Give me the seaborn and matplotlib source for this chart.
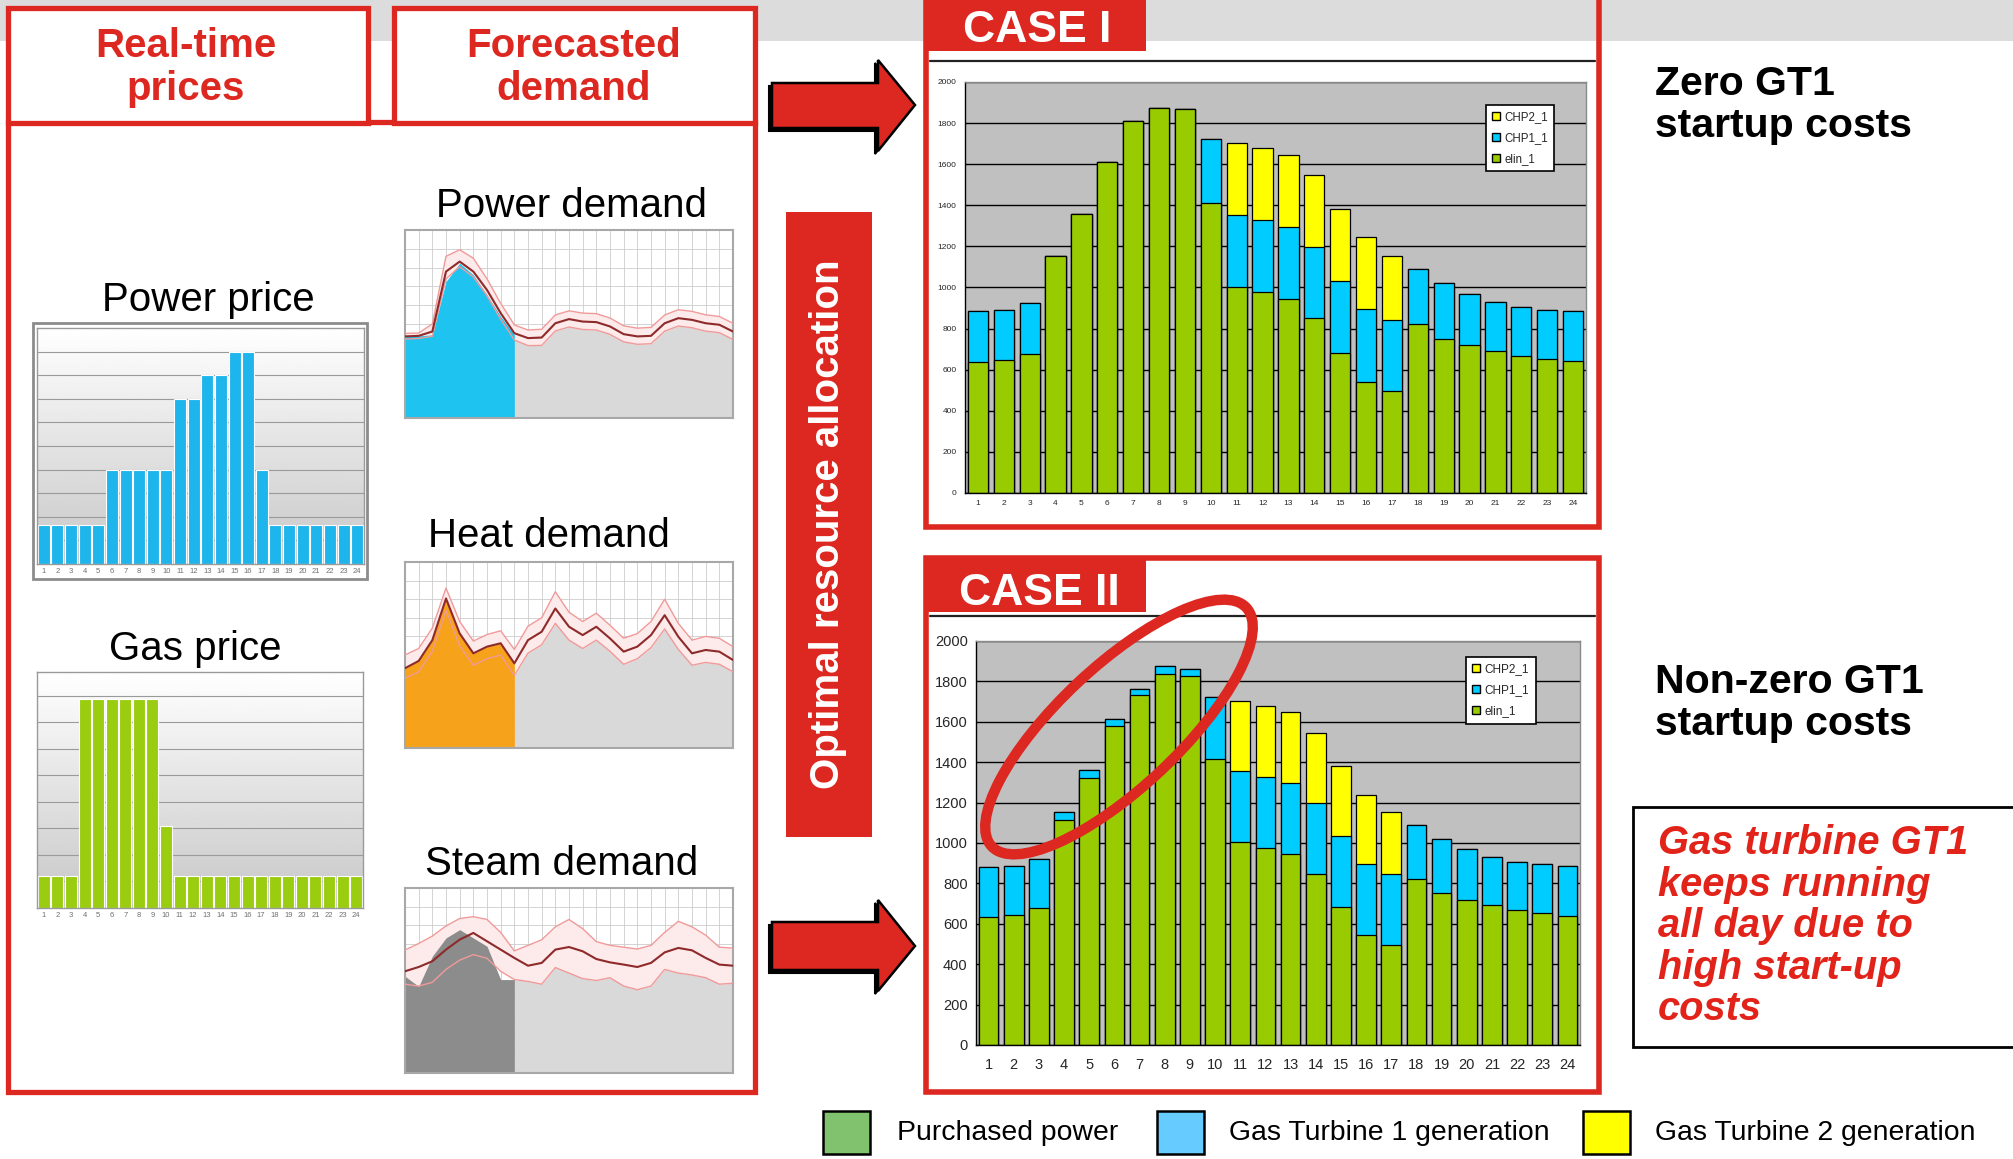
import matplotlib
matplotlib.use("Agg")
import matplotlib.pyplot as plt
from matplotlib.patches import Rectangle, Polygon, Ellipse, Patch
import numpy as np
import seaborn as sns

# ---- data ----
hours = list(range(1, 25))

# case I: purchased power (elin_1), GT1 (CHP1_1), GT2 (CHP2_1)
elin_1 = [636, 647, 677, 1155, 1359, 1612, 1809, 1872, 1867, 1413, 1004, 976,
          942, 850, 682, 542, 496, 820, 751, 721, 693, 666, 652, 643]
chp1_1 = [248, 244, 248, 0, 0, 0, 0, 0, 0, 309, 350, 353,
          351, 346, 352, 355, 347, 270, 271, 249, 235, 241, 239, 241]
chp2_1 = [0, 0, 0, 0, 0, 0, 0, 0, 0, 0, 350, 349,
          352, 352, 346, 347, 312, 0, 0, 0, 0, 0, 0, 0]

# case II
elin_2 = [632, 644, 680, 1116, 1323, 1581, 1733, 1839, 1829, 1414, 1003, 976,
          945, 846, 684, 545, 496, 822, 751, 720, 692, 667, 652, 640]
chp1_2 = [248, 241, 243, 38, 38, 34, 31, 36, 34, 307, 351, 352,
          350, 351, 350, 350, 350, 265, 271, 248, 240, 238, 243, 245]
chp2_2 = [0, 0, 0, 0, 0, 0, 0, 0, 0, 0, 350, 350,
          352, 350, 348, 345, 306, 0, 0, 0, 0, 0, 0, 0]

power_price = [1.65, 1.65, 1.65, 1.65, 1.65, 4, 4, 4, 4, 4, 7, 7,
               8, 8, 9, 9, 4, 1.65, 1.65, 1.65, 1.65, 1.65, 1.65, 1.65]
gas_price = [1.2, 1.2, 1.2, 7.9, 7.9, 7.9, 7.9, 7.9, 7.9, 3.1, 1.2, 1.2,
             1.2, 1.2, 1.2, 1.2, 1.2, 1.2, 1.2, 1.2, 1.2, 1.2, 1.2, 1.2]

# forecast profiles (0..24 h, % of axis) and measured part (0..8 h)
fc_hours = list(range(25))
act_hours = list(range(9))

power_act = [43.4, 43.7, 44.2, 72.6, 82.3, 76.1, 65.5, 54.0, 44.2]
power_fc = [43.4, 43.7, 46.0, 77.9, 83.2, 77.9, 68.1, 55.8, 45.1, 42.5, 42.8, 50.4, 52.6,
            51.3, 51.0, 48.7, 44.6, 43.4, 43.7, 50.4, 53.1, 52.2, 50.4, 49.6, 46.0]
power_hi = [45.0, 45.2, 50.0, 86.0, 89.5, 85.0, 74.0, 61.0, 49.5, 46.8, 47.2, 54.8, 57.0,
            55.8, 55.5, 53.2, 49.0, 47.8, 48.2, 54.8, 57.6, 56.7, 54.9, 54.0, 50.4]
power_lo = [42.0, 42.3, 43.5, 74.0, 80.5, 75.0, 65.0, 52.5, 41.5, 38.5, 38.6, 46.3, 48.4,
            47.1, 46.8, 44.5, 40.5, 39.2, 39.5, 46.2, 48.9, 48.0, 46.2, 45.4, 41.8]

heat_act = [42.9, 46.8, 58.0, 80.4, 61.6, 50.9, 54.5, 56.3, 45.5]
heat_fc = [42.9, 46.8, 58.0, 80.4, 61.6, 50.9, 54.5, 56.3, 45.5, 58.0, 62.5, 75.0, 65.2,
           60.7, 65.2, 58.9, 51.8, 54.5, 60.7, 71.4, 59.8, 50.9, 52.7, 51.8, 47.3]
heat_hi = [50.0, 53.5, 64.5, 86.0, 68.0, 57.5, 61.0, 63.0, 53.0, 65.5, 70.0, 84.0, 73.0,
           68.0, 72.5, 66.0, 59.0, 61.5, 68.0, 80.0, 67.0, 58.0, 60.0, 59.0, 54.5]
heat_lo = [37.5, 41.0, 52.0, 74.0, 55.0, 44.5, 48.0, 50.0, 39.0, 51.0, 55.5, 67.0, 58.0,
           53.5, 58.0, 52.0, 45.0, 48.0, 54.0, 64.0, 53.0, 44.5, 46.0, 45.0, 41.0]

steam_act = [52.3, 46.8, 63.1, 73.0, 77.5, 73.0, 68.5, 50.5, 50.5]
steam_fc = [55.0, 57.3, 60.4, 66.7, 72.1, 75.7, 71.2, 66.7, 62.2, 58.0, 59.5, 66.7, 68.1,
            65.8, 61.6, 59.8, 58.6, 57.3, 59.5, 65.2, 67.6, 66.3, 62.2, 58.6, 58.0]
steam_hi = [66.5, 70.0, 74.0, 79.5, 83.5, 84.5, 83.0, 76.0, 66.0, 69.0, 72.0, 79.0, 83.0,
            78.0, 71.0, 69.0, 68.0, 67.0, 69.0, 76.0, 82.0, 79.0, 74.5, 68.0, 67.5]
steam_lo = [48.0, 47.0, 49.0, 56.0, 61.0, 64.0, 62.0, 55.0, 50.5, 49.5, 48.0, 57.0, 54.0,
            51.0, 50.0, 51.5, 47.0, 45.0, 47.0, 56.0, 54.0, 53.0, 51.5, 48.0, 48.5]

# ---- style ----
sns.set_style("white")
plt.rcParams["font.family"] = ["Liberation Sans", "DejaVu Sans"]

RED = "#dc2820"
GREEN = "#99cc00"
BLUE = "#00ccff"
YELLOW = "#ffff00"

W, H = 2013, 1159
fig = plt.figure(figsize=(W / 100, H / 100), dpi=100)


def box(x, y, w, h):
    return [x / W, 1 - (y + h) / H, w / W, h / H]


bg = fig.add_axes([0, 0, 1, 1], zorder=0)
bg.set_xlim(0, W)
bg.set_ylim(H, 0)
bg.axis("off")

# top grey band
bg.add_patch(Rectangle((0, 0), W, 41, color="#dcdcdc", lw=0))

# left frame with header boxes
bg.add_patch(Rectangle((8, 122), 747, 970, fc="white", ec=RED, lw=3.8))
bg.add_patch(Rectangle((8, 8), 360, 115, fc="white", ec=RED, lw=3.8))
bg.add_patch(Rectangle((394, 8), 361, 115, fc="white", ec=RED, lw=3.8))
for txt, xc, yb in [("Real-time", 186, 57), ("prices", 186, 100),
                    ("Forecasted", 574, 57), ("demand", 574, 100)]:
    bg.text(xc, yb, txt, ha="center", va="baseline", color=RED,
            fontsize=29, fontweight="bold")

for txt, xc, yb in [("Power price", 208, 311), ("Gas price", 195, 660),
                    ("Power demand", 571, 217), ("Heat demand", 549, 547),
                    ("Steam demand", 562, 875)]:
    bg.text(xc, yb, txt, ha="center", va="baseline", color="black", fontsize=29)

# arrows
for pts in [[(772, 83), (878, 83), (878, 60), (915, 105), (878, 151), (878, 128), (772, 128)],
            [(772, 922), (878, 922), (878, 900), (915, 946), (878, 991), (878, 970), (772, 970)]]:
    shadow = [(px - 3, py + 3) for px, py in pts]
    bg.add_patch(Polygon(shadow, closed=True, fc="black", ec="black", lw=1.5))
    bg.add_patch(Polygon(pts, closed=True, fc=RED, ec="black", lw=1.8))

# vertical label box
bg.add_patch(Rectangle((786, 212), 86, 625, color=RED, lw=0))
bg.text(828, 524, "Optimal resource allocation", rotation=90, ha="center", va="center",
        color="white", fontsize=29, fontweight="bold")

# CASE I frame (top edge runs off the canvas)
bg.add_patch(Rectangle((926, -20), 673, 547, fc="none", ec=RED, lw=4))
bg.add_patch(Rectangle((924, 0), 222, 51, color=RED, lw=0))
bg.plot([930, 1595], [61, 61], color="#222222", lw=1.6)
bg.text(963, 42, "CASE I", color="white", fontsize=32, fontweight="bold", va="baseline")

# CASE II frame
bg.add_patch(Rectangle((926, 558), 673, 534, fc="white", ec=RED, lw=4))
bg.add_patch(Rectangle((924, 556), 222, 56, color=RED, lw=0))
bg.plot([930, 1595], [616, 616], color="#222222", lw=1.6)
bg.text(959, 605, "CASE II", color="white", fontsize=32, fontweight="bold", va="baseline")

# right-hand notes
for txt, yb in [("Zero GT1", 95), ("startup costs", 137),
                ("Non-zero GT1", 693), ("startup costs", 735)]:
    bg.text(1655, yb, txt, fontsize=29.5, fontweight="bold", va="baseline", color="black")

bg.add_patch(Rectangle((1633, 807), 390, 240, fc="white", ec="black", lw=2))
for txt, yb in [("Gas turbine GT1", 854), ("keeps running", 896), ("all day due to", 937),
                ("high start-up", 979), ("costs", 1020)]:
    bg.text(1658, yb, txt, fontsize=28.7, fontweight="bold", fontstyle="italic",
            color="#e2231a", va="baseline")

# bottom legend
for x0, col, xt, lab in [(823, "#80c26e", 897, "Purchased power"),
                         (1157, "#66ccff", 1229, "Gas Turbine 1 generation"),
                         (1583, YELLOW, 1655, "Gas Turbine 2 generation")]:
    bg.add_patch(Rectangle((x0, 1111), 47, 43, fc=col, ec="black", lw=1.8))
    bg.text(xt, 1133, lab, fontsize=20.4, va="center", color="black")


# ---- small price charts ----
def gradient(ax):
    grad = np.linspace(1.0, 0.78, 100).reshape(-1, 1)
    ax.imshow(grad, cmap="gray", vmin=0, vmax=1, extent=[0, 1, 0, 1],
              transform=ax.transAxes, aspect="auto", zorder=0)


def price_chart(rect, values, color, top):
    ax = fig.add_axes(box(*rect))
    gradient(ax)
    sns.barplot(x=hours, y=values, color=color, saturation=1, width=0.88,
                edgecolor="white", linewidth=0.8, errorbar=None, ax=ax)
    ax.set_xlim(-0.5, 23.5)
    ax.set_ylim(0, top)
    ax.set_yticks(np.arange(0, top, 1))
    ax.yaxis.grid(True, color="#9a9a9a", lw=0.8)
    ax.set_axisbelow(True)
    ax.set_yticklabels([])
    ax.tick_params(axis="x", labelsize=5.5, labelcolor="#707070", length=0, pad=3)
    ax.tick_params(axis="y", length=0)
    ax.set_xlabel("")
    ax.set_ylabel("")
    for s in ax.spines.values():
        s.set_color("#9a9a9a")
        s.set_linewidth(1)
    return ax


bg.add_patch(Rectangle((33, 323), 334, 256, fc="white", ec="#8c8c8c", lw=2))
price_chart((37, 328, 327, 236), power_price, "#1eb4ec", 10)
price_chart((37, 672, 326, 236), gas_price, "#9acc10", 8.9)


# ---- demand forecast charts ----
def demand_chart(rect, act, fc, hi, lo, color):
    ax = fig.add_axes(box(*rect))
    ax.fill_between(fc_hours[8:], 0, lo[8:], color="#d9d9d9", lw=0, zorder=1)
    ax.fill_between(fc_hours, lo, hi, color="#fdeaea", lw=0, zorder=1)
    ax.fill_between(act_hours, 0, act, color=color, lw=0, zorder=1.5)
    sns.lineplot(x=fc_hours, y=hi, color="#f09a9a", lw=1.0, ax=ax, zorder=3)
    sns.lineplot(x=fc_hours, y=lo, color="#f09a9a", lw=1.0, ax=ax, zorder=3)
    sns.lineplot(x=fc_hours, y=fc, color="#8e2a2a", lw=1.5, ax=ax, zorder=3)
    ax.set_xlim(0, 24)
    ax.set_ylim(0, 100)
    ax.set_xticks(fc_hours)
    ax.set_yticks(range(0, 101, 10))
    ax.grid(True, color="#cccccc", lw=0.6, zorder=2)
    ax.set_xticklabels([])
    ax.set_yticklabels([])
    ax.tick_params(length=0)
    ax.set_xlabel("")
    ax.set_ylabel("")
    for s in ax.spines.values():
        s.set_color("#a8a8a8")
        s.set_linewidth(1.5)
    return ax


demand_chart((405, 230, 328, 188), power_act, power_fc, power_hi, power_lo, "#1ec3ef")
demand_chart((405, 562, 328, 186), heat_act, heat_fc, heat_hi, heat_lo, "#f7a21b")
demand_chart((405, 888, 328, 185), steam_act, steam_fc, steam_hi, steam_lo, "#8c8c8c")


# ---- stacked dispatch charts ----
def case_chart(rect, green, gt1, gt2, fs, legfs, anchor):
    ax = fig.add_axes(box(*rect))
    ax.set_facecolor("#c0c0c0")
    with_gt1 = [g + b for g, b in zip(green, gt1)]
    total = [t + y for t, y in zip(with_gt1, gt2)]
    for vals, col in [(total, YELLOW), (with_gt1, BLUE), (green, GREEN)]:
        sns.barplot(x=hours, y=vals, color=col, saturation=1, width=0.78,
                    edgecolor="black", linewidth=0.9, errorbar=None, ax=ax)
    ax.set_xlim(-0.5, 23.5)
    ax.set_ylim(0, 2000)
    ax.set_yticks(range(0, 2001, 200))
    ax.yaxis.grid(True, color="black", lw=1)
    ax.set_axisbelow(True)
    ax.set_xticks([i + 0.5 for i in range(-1, 24)], minor=True)
    ax.tick_params(axis="x", which="major", length=0, labelsize=fs, pad=fs * 0.9)
    ax.tick_params(axis="x", which="minor", length=4, width=0.8, direction="out")
    ax.tick_params(axis="y", length=4, width=0.8, direction="out", labelsize=fs, pad=2)
    ax.set_xlabel("")
    ax.set_ylabel("")
    for k in ["left", "bottom"]:
        ax.spines[k].set_color("black")
        ax.spines[k].set_linewidth(1)
    for k in ["top", "right"]:
        ax.spines[k].set_color("#8a8a8a")
        ax.spines[k].set_linewidth(1)
    handles = [Patch(fc=YELLOW, ec="black", label="CHP2_1"),
               Patch(fc=BLUE, ec="black", label="CHP1_1"),
               Patch(fc=GREEN, ec="black", label="elin_1")]
    leg = ax.legend(handles=handles, loc="upper left", bbox_to_anchor=anchor,
                    fontsize=legfs, frameon=True, fancybox=False, framealpha=1,
                    edgecolor="black", handlelength=0.7, handleheight=0.7,
                    handletextpad=0.35, labelspacing=0.75, borderpad=0.55)
    leg.get_frame().set_linewidth(1.2)
    return ax


case_chart((965, 82, 621, 411), elin_1, chp1_1, chp2_1, 6, 8.3, (0.829, 0.958))
case_chart((976, 641, 604, 404), elin_2, chp1_2, chp2_2, 10.5, 8.5, (0.801, 0.975))

# highlight ellipse on top
ov = fig.add_axes([0, 0, 1, 1], zorder=20)
ov.set_xlim(0, W)
ov.set_ylim(H, 0)
ov.axis("off")
ov.patch.set_alpha(0)
ov.add_patch(Ellipse((1119, 727), width=349, height=121, angle=-43.2,
                     fill=False, ec=RED, lw=7.5))

fig.savefig("out.png", dpi=100)
